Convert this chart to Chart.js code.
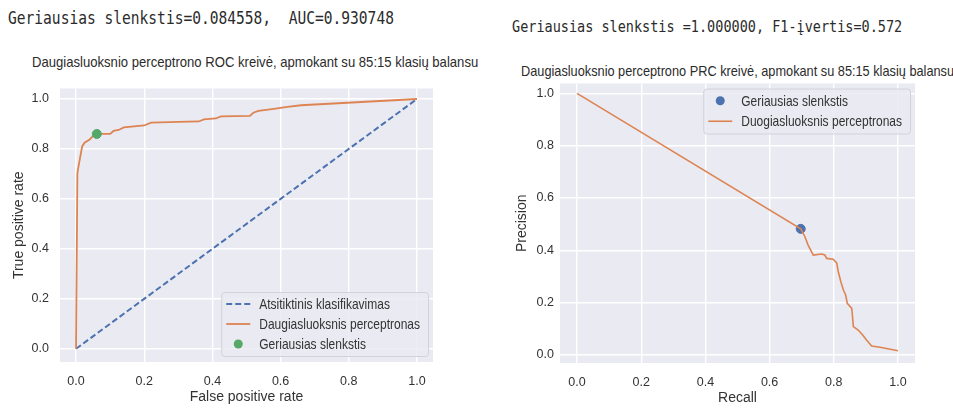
<!DOCTYPE html>
<html>
<head>
<meta charset="utf-8">
<script src="https://cdn.jsdelivr.net/npm/chart.js@4.4.0/dist/chart.umd.min.js"></script>
<style>
  body { margin: 0; background: #fff; width: 953px; height: 408px; position: relative; overflow: hidden; }
  .txt { position: absolute; white-space: pre; color: #2b2b2b; transform-origin: 0 50%; }
  .mono { font-family: 'DejaVu Sans Mono', monospace; line-height: 20px; }
  .ttl { font-family: 'Liberation Sans', Arial, sans-serif; font-size: 15px; line-height: 18px; }
  canvas { position: absolute; }
</style>
</head>
<body>
<div class="txt mono" style="left:8px; top:8px; font-size:17px; transform:scaleX(0.857);">Geriausias slenkstis=0.084558,  AUC=0.930748</div>
<div class="txt mono" style="left:512px; top:17px; font-size:16px; transform:scaleX(0.844);">Geriausias slenkstis =1.000000, F1-įvertis=0.572</div>
<div class="txt ttl" style="left:32px; top:53px; transform:scaleX(0.873);">Daugiasluoksnio perceptrono ROC kreivė, apmokant su 85:15 klasių balansu</div>
<div class="txt ttl" style="left:521px; top:62px; transform:scaleX(0.85);">Daugiasluoksnio perceptrono PRC kreivė, apmokant su 85:15 klasių balansu</div>

<canvas id="rocChart" width="470" height="338" style="left:0; top:70px;"></canvas>
<canvas id="prcChart" width="473" height="338" style="left:480px; top:70px;"></canvas>

<script>
// axis ticks (both charts)
const tickVals = [0, 0.2, 0.4, 0.6, 0.8, 1.0];

// ROC - random classifier
const randFpr = [0, 1];
const randTpr = [0, 1];

// ROC - MLP curve
const rocFpr = [0, 0.004, 0.006, 0.018, 0.025, 0.04, 0.05, 0.061, 0.10, 0.11, 0.125, 0.14, 0.2, 0.22, 0.3, 0.36, 0.375, 0.41, 0.425, 0.51, 0.52, 0.535, 0.58, 0.62, 0.66, 1.0];
const rocTpr = [0, 0.70, 0.72, 0.81, 0.825, 0.838, 0.852, 0.86, 0.86, 0.872, 0.876, 0.886, 0.894, 0.905, 0.908, 0.91, 0.918, 0.922, 0.93, 0.932, 0.945, 0.952, 0.96, 0.968, 0.975, 1.0];

// ROC - best threshold
const rocBestFpr = [0.061];
const rocBestTpr = [0.86];

// PRC - MLP curve
const recall = [0, 0.697, 0.71, 0.72, 0.736, 0.762, 0.772, 0.778, 0.798, 0.809, 0.814, 0.822, 0.83, 0.837, 0.842, 0.856, 0.861, 0.876, 0.89, 0.902, 0.918, 0.944, 1.0];
const precision = [1.0, 0.482, 0.452, 0.42, 0.382, 0.386, 0.382, 0.369, 0.366, 0.352, 0.318, 0.28, 0.248, 0.229, 0.197, 0.178, 0.108, 0.095, 0.076, 0.057, 0.034, 0.029, 0.016];

// PRC - best threshold
const prcBestRecall = [0.697];
const prcBestPrecision = [0.482];

const BLUE = '#4C72B0', ORANGE = '#DD8452', GREEN = '#55A868';
const TXT = '#333333';
const SANS = "'Liberation Sans', Arial, sans-serif";

function pts(xs, ys) {
  return xs.map((x, i) => ({ x: x, y: ys[i] }));
}

// grey plot background (seaborn darkgrid look)
const plotBg = {
  id: 'plotBg',
  beforeDraw(chart) {
    const { ctx, chartArea: a } = chart;
    ctx.save();
    ctx.fillStyle = '#EAEAF2';
    ctx.fillRect(a.left, a.top, a.right - a.left, a.bottom - a.top);
    ctx.restore();
  }
};

// legend drawn inside the axes, matplotlib style
const boxLegend = {
  id: 'boxLegend',
  afterDatasetsDraw(chart, args, o) {
    const { ctx, chartArea: a } = chart;
    const sx = 0.8;
    ctx.save();
    ctx.font = '15px ' + SANS;
    const dsList = o.rows.map(i => chart.data.datasets[i]);
    const maxW = Math.max(...dsList.map(d => ctx.measureText(d.label).width)) * sx;
    const w = 38 + maxW + 8;
    const h = dsList.length * o.rowH + 4;
    const x = a.right - 5 - w;
    const y = o.corner === 'bottom' ? a.bottom - 6 - h : a.top + 5;

    ctx.fillStyle = 'rgba(234,234,242,0.85)';
    ctx.strokeStyle = '#d2d2da';
    ctx.lineWidth = 1;
    ctx.beginPath();
    ctx.roundRect(x + 0.5, y + 0.5, w, h, 3);
    ctx.fill();
    ctx.stroke();

    dsList.forEach((d, k) => {
      const cy = y + 2 + o.rowH * (k + 0.5);
      if (d.showLine) {
        ctx.strokeStyle = d.borderColor;
        ctx.lineWidth = d.borderWidth;
        ctx.setLineDash(d.borderDash || []);
        ctx.beginPath();
        ctx.moveTo(x + 5, cy);
        ctx.lineTo(x + 29, cy);
        ctx.stroke();
        ctx.setLineDash([]);
      } else {
        ctx.fillStyle = d.backgroundColor;
        ctx.beginPath();
        ctx.arc(x + 17, cy, d.pointRadius, 0, Math.PI * 2);
        ctx.fill();
      }
      ctx.save();
      ctx.translate(x + 38, cy);
      ctx.scale(sx, 1);
      ctx.fillStyle = TXT;
      ctx.textBaseline = 'middle';
      ctx.fillText(d.label, 0, 1);
      ctx.restore();
    });
    ctx.restore();
  }
};

function axis(cfg) {
  return {
    type: 'linear',
    min: cfg.min,
    max: cfg.max,
    afterBuildTicks: s => { s.ticks = tickVals.map(v => ({ value: v })); },
    afterFit: s => {
      if (cfg.size.w) s.width = cfg.size.w;
      if (cfg.size.h) s.height = cfg.size.h;
    },
    grid: { color: '#ffffff', lineWidth: 1.4, drawTicks: false },
    border: { display: false },
    ticks: {
      padding: cfg.tickPad,
      color: TXT,
      font: { family: SANS, size: 12.5 },
      callback: v => Number(v).toFixed(1)
    },
    title: {
      display: true,
      text: cfg.title,
      color: TXT,
      font: { family: SANS, size: 14 },
      padding: cfg.titlePad
    }
  };
}

function makeChart(id, datasets, x, y, padding, legendOpts) {
  return new Chart(document.getElementById(id), {
    type: 'scatter',
    data: { datasets: datasets },
    options: {
      responsive: false,
      animation: false,
      layout: { padding: padding },
      plugins: {
        legend: { display: false },
        tooltip: { enabled: false },
        boxLegend: legendOpts
      },
      scales: { x: axis(x), y: axis(y) }
    },
    plugins: [plotBg, boxLegend]
  });
}

// ROC chart
makeChart('rocChart', [
  { label: 'Atsitiktinis klasifikavimas', data: pts(randFpr, randTpr), showLine: true,
    borderColor: BLUE, borderWidth: 2, borderDash: [6, 3], pointRadius: 0, order: 2 },
  { label: 'Daugiasluoksnis perceptronas', data: pts(rocFpr, rocTpr), showLine: true,
    borderColor: ORANGE, borderWidth: 1.8, pointRadius: 0, order: 1 },
  { label: 'Geriausias slenkstis', data: pts(rocBestFpr, rocBestTpr), showLine: false,
    backgroundColor: GREEN, borderColor: GREEN, pointRadius: 4.5, order: 0 }
],
  { min: -0.047, max: 1.047, size: { h: 46 }, tickPad: 12, title: 'False positive rate', titlePad: { top: 0, bottom: 2 } },
  { min: -0.053, max: 1.042, size: { w: 60 }, tickPad: 11, title: 'True positive rate', titlePad: { top: 11, bottom: 0 } },
  { top: 5, right: 37, left: 0, bottom: 0 },
  { rows: [0, 1, 2], rowH: 20, corner: 'bottom' }
);

// PRC chart
makeChart('prcChart', [
  { label: 'Geriausias slenkstis', data: pts(prcBestRecall, prcBestPrecision), showLine: false,
    backgroundColor: BLUE, borderColor: BLUE, pointRadius: 4.5, order: 1 },
  { label: 'Duogiasluoksnis perceptronas', data: pts(recall, precision), showLine: true,
    borderColor: ORANGE, borderWidth: 1.6, pointRadius: 0, order: 0 }
],
  { min: -0.053, max: 1.053, size: { h: 45 }, tickPad: 12, title: 'Recall', titlePad: { top: 0, bottom: 1 } },
  { min: -0.031, max: 1.038, size: { w: 80 }, tickPad: 6, title: 'Precision', titlePad: { top: 34, bottom: 0 } },
  { top: 13, right: 38, left: 0, bottom: 0 },
  { rows: [0, 1], rowH: 20.5, corner: 'top' }
);
</script>
</body>
</html>
